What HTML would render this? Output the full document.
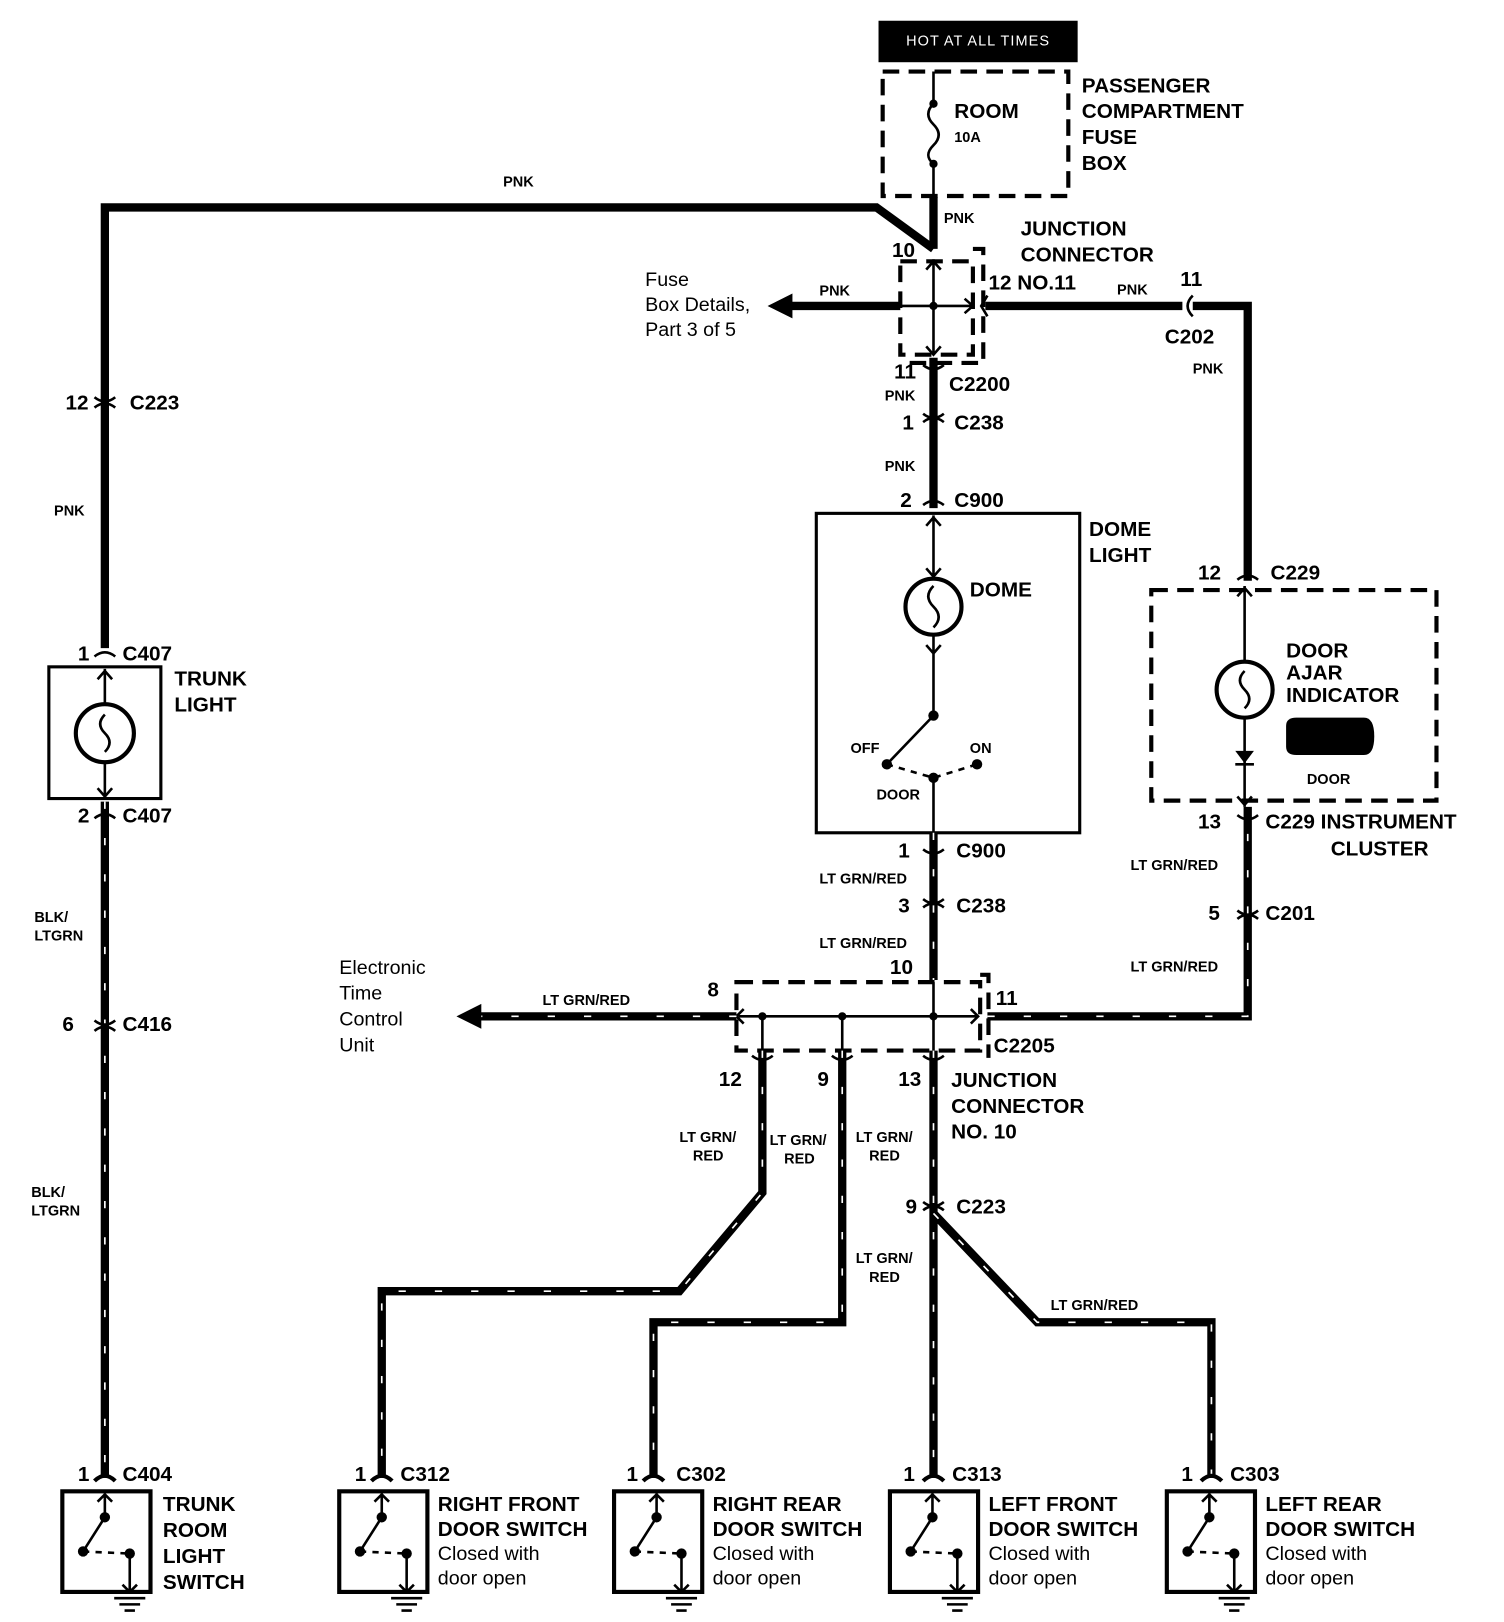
<!DOCTYPE html>
<html><head><meta charset="utf-8"><style>
html,body{margin:0;padding:0;background:#fff}
svg{display:block}
text{font-family:"Liberation Sans",Arial,sans-serif;fill:#000}
.b{font-weight:bold;font-size:20px}
.s{font-weight:bold;font-size:14px}
.n{font-size:19px}
.w{fill:none;stroke:#000;stroke-width:8;stroke-linejoin:miter}
.p{fill:none;stroke:#fff;stroke-width:1.6;stroke-dasharray:7 28}
.t{fill:none;stroke:#000;stroke-width:2.5}
.d{fill:none;stroke:#000;stroke-width:4;stroke-dasharray:16 9}
</style></head><body>
<svg width="1504" height="1622" viewBox="0 0 1450 1564" xmlns="http://www.w3.org/2000/svg">
<rect x="847" y="20" width="192" height="40" fill="#000"/>
<text x="943" y="44" text-anchor="middle" style="fill:#fff;font-size:14px;letter-spacing:1px">HOT AT ALL TIMES</text>
<rect x="851" y="69" width="179" height="120" class="d"/>
<path d="M900 69V100 M900 158V190" class="t"/>
<path d="M900 100 q-10 10 0 20 q10 10 0 20 q-10 10 0 18" class="t"/>
<circle cx="900" cy="100" r="4"/><circle cx="900" cy="158" r="4"/>
<text x="920" y="114" class="b">ROOM</text><text x="920" y="137" class="s">10A</text>
<text x="1043" y="89" class="b">PASSENGER</text><text x="1043" y="114" class="b">COMPARTMENT</text>
<text x="1043" y="139" class="b">FUSE</text><text x="1043" y="164" class="b">BOX</text>
<path d="M900 190V240 M900 240L845 200H101V625" class="w"/>
<text x="910" y="215" class="s">PNK</text><text x="485" y="180" class="s">PNK</text>
<rect x="868" y="252" width="70" height="90" class="d"/>
<path d="M938 240h10v110h-75" class="d" stroke-width="3"/>
<path d="M900 250V342 M868 295H938 M893 260l7-8 7 8 M893 334l7 8 7-8 M930 288l8 7-8 7" class="t"/>
<circle cx="900" cy="295" r="4"/>
<text x="860" y="248" class="b">10</text><text x="953" y="279" class="b">12 NO.11</text>
<text x="984" y="227" class="b">JUNCTION</text><text x="984" y="252" class="b">CONNECTOR</text>
<path d="M868 295H760" class="w"/><path d="M740 295l24-12v24z"/>
<text x="790" y="285" class="s">PNK</text>
<text x="622" y="276" class="n">Fuse</text><text x="622" y="300" class="n">Box Details,</text><text x="622" y="324" class="n">Part 3 of 5</text>
<path d="M950 295H1140 M1150 295H1203V560" class="w"/>
<path d="M952 285l-6 10 6 10 M1150 285q-10 10 0 20" class="t" stroke-width="4"/>
<text x="1138" y="276" class="b">11</text><text x="1077" y="284" class="s">PNK</text>
<text x="1123" y="331" class="b">C202</text><text x="1150" y="360" class="s">PNK</text>
<path d="M900 345V490" class="w"/>
<text x="862" y="365" class="b">11</text><text x="915" y="377" class="b">C2200</text><text x="853" y="386" class="s">PNK</text>
<text x="870" y="414" class="b">1</text><text x="920" y="414" class="b">C238</text>
<text x="853" y="454" class="s">PNK</text>
<text x="868" y="489" class="b">2</text><text x="920" y="489" class="b">C900</text>
<rect x="787" y="495" width="254" height="308" fill="none" stroke="#000" stroke-width="3"/>
<path d="M900 497V557 M900 613V690 L855 737 M900 750V803 M893 507l7-8 7 8 M893 548l7 8 7-8 M893 622l7 8 7-8" class="t"/>
<circle cx="900" cy="585" r="27" fill="none" stroke="#000" stroke-width="4"/>
<path d="M900 565q-10 10 0 20q10 10 0 20" class="t"/>
<circle cx="900" cy="690" r="5"/><circle cx="855" cy="737" r="5"/><circle cx="900" cy="750" r="5"/><circle cx="942" cy="737" r="5"/>
<path d="M855 737L900 750L942 737" class="t" stroke-dasharray="6 6"/>
<text x="935" y="575" class="b">DOME</text>
<text x="820" y="726" class="s">OFF</text><text x="935" y="726" class="s">ON</text><text x="845" y="771" class="s">DOOR</text>
<text x="1050" y="517" class="b">DOME</text><text x="1050" y="542" class="b">LIGHT</text>
<path d="M900 803V945" class="w"/><path d="M900 803V945" class="p"/>
<text x="866" y="827" class="b">1</text><text x="922" y="827" class="b">C900</text>
<text x="790" y="852" class="s">LT GRN/RED</text>
<text x="866" y="880" class="b">3</text><text x="922" y="880" class="b">C238</text>
<text x="790" y="914" class="s">LT GRN/RED</text>
<text x="858" y="939" class="b">10</text>
<rect x="710" y="947" width="235" height="66" class="d"/>
<path d="M945 940h8v80" class="d" stroke-width="3"/>
<path d="M712 980H943 M735 980V1013 M812 980V1013 M900 947V1013 M936 973l7 7-7 7 M717 973l-7 7 7 7" class="t"/>
<circle cx="735" cy="980" r="4"/><circle cx="812" cy="980" r="4"/><circle cx="900" cy="980" r="4"/>
<text x="682" y="961" class="b">8</text><text x="960" y="969" class="b">11</text><text x="958" y="1015" class="b">C2205</text>
<text x="693" y="1047" class="b">12</text><text x="788" y="1047" class="b">9</text><text x="866" y="1047" class="b">13</text>
<text x="917" y="1048" class="b">JUNCTION</text><text x="917" y="1073" class="b">CONNECTOR</text><text x="917" y="1098" class="b">NO. 10</text>
<path d="M710 980H460" class="w"/><path d="M710 980H460" class="p"/><path d="M440 980l24-12v24z"/>
<text x="523" y="969" class="s">LT GRN/RED</text>
<text x="327" y="939" class="n">Electronic</text><text x="327" y="964" class="n">Time</text><text x="327" y="989" class="n">Control</text><text x="327" y="1014" class="n">Unit</text>
<path d="M952 980H1203V778" class="w"/><path d="M952 980H1203V778" class="p"/>
<rect x="1110" y="569" width="275" height="203" class="d"/>
<path d="M1200 565V637 M1200 693V778 M1193 575l7-8 7 8 M1193 768l7 8 7-8" class="t"/>
<circle cx="1200" cy="665" r="27" fill="none" stroke="#000" stroke-width="4"/>
<path d="M1200 647q-9 9 0 18q9 9 0 18" class="t"/>
<path d="M1191 724h18l-9 12z"/><path d="M1191 737h18" class="t"/>
<path d="M1240 700q0-8 10-8h65q10 0 10 18q0 18-10 18h-65q-10 0-10-8z"/>
<text x="1240" y="634" class="b">DOOR</text><text x="1240" y="655" class="b">AJAR</text><text x="1240" y="677" class="b">INDICATOR</text>
<text x="1260" y="756" class="s">DOOR</text>
<text x="1155" y="559" class="b">12</text><text x="1225" y="559" class="b">C229</text>
<text x="1155" y="799" class="b">13</text><text x="1220" y="799" class="b">C229 INSTRUMENT</text><text x="1283" y="825" class="b">CLUSTER</text>
<text x="1090" y="839" class="s">LT GRN/RED</text>
<text x="1165" y="887" class="b">5</text><text x="1220" y="887" class="b">C201</text>
<text x="1090" y="937" class="s">LT GRN/RED</text>
<g>
<path d="M735 1013V1150L655 1245H368V1425 M812 1013V1275H630V1425 M900 1013V1425 M900 1170L1000 1275H1168V1425" class="w"/>
<path d="M735 1013V1150L655 1245H368V1425 M812 1013V1275H630V1425 M900 1013V1425 M900 1170L1000 1275H1168V1425" class="p"/>
</g>
<text x="873" y="1170" class="b">9</text><text x="922" y="1170" class="b">C223</text>
<text x="655" y="1101" class="s">LT GRN/</text><text x="668" y="1119" class="s">RED</text>
<text x="742" y="1104" class="s">LT GRN/</text><text x="756" y="1122" class="s">RED</text>
<text x="825" y="1101" class="s">LT GRN/</text><text x="838" y="1119" class="s">RED</text>
<text x="825" y="1218" class="s">LT GRN/</text><text x="838" y="1236" class="s">RED</text>
<text x="1013" y="1263" class="s">LT GRN/RED</text>
<text x="63" y="395" class="b">12</text><text x="125" y="395" class="b">C223</text>
<text x="52" y="497" class="s">PNK</text>
<text x="75" y="637" class="b">1</text><text x="118" y="637" class="b">C407</text>
<rect x="47" y="643" width="108" height="127" fill="none" stroke="#000" stroke-width="3"/>
<path d="M101 645V679 M101 735V770 M94 655l7-8 7 8 M94 760l7 8 7-8" class="t"/>
<circle cx="101" cy="707" r="28" fill="none" stroke="#000" stroke-width="4"/>
<path d="M101 689q-9 9 0 18q9 9 0 18" class="t"/>
<text x="168" y="661" class="b">TRUNK</text><text x="168" y="686" class="b">LIGHT</text>
<path d="M101 773V1425" class="w"/><path d="M101 773V1425" class="p"/>
<text x="75" y="793" class="b">2</text><text x="118" y="793" class="b">C407</text>
<text x="33" y="889" class="s">BLK/</text><text x="33" y="907" class="s">LTGRN</text>
<text x="60" y="994" class="b">6</text><text x="118" y="994" class="b">C416</text>
<text x="30" y="1154" class="s">BLK/</text><text x="30" y="1172" class="s">LTGRN</text>
<g class="t" stroke-width="4" fill="none">
<path d="M91 393q10-8 20 0 M91 383q10 8 20 0"/>
<path d="M91 633q10-8 20 0 M91 789q10-8 20 0 M91 994q10-8 20 0 M91 984q10 8 20 0"/>
<path d="M890 407q10-8 20 0 M890 399q10 8 20 0 M890 487q10-8 20 0 M890 819q10 8 20 0 M890 875q10-8 20 0 M890 867q10 8 20 0 M890 1167q10-8 20 0 M890 1159q10 8 20 0"/>
<path d="M1193 559q10-8 20 0 M1193 786q10 8 20 0 M1193 886q10-8 20 0 M1193 878q10 8 20 0"/>
<path d="M725 1018q10 8 20 0 M802 1018q10 8 20 0 M890 1018q10 8 20 0 M890 352q10 8 20 0"/>
</g>
<text x="75" y="1428" class="b">1</text><text x="118" y="1428" class="b">C404</text>
<text x="342" y="1428" class="b">1</text><text x="386" y="1428" class="b">C312</text>
<text x="604" y="1428" class="b">1</text><text x="652" y="1428" class="b">C302</text>
<text x="871" y="1428" class="b">1</text><text x="918" y="1428" class="b">C313</text>
<text x="1139" y="1428" class="b">1</text><text x="1186" y="1428" class="b">C303</text>
<g fill="none" stroke="#000">
<path d="M91 1428q10-10 20 0 M358 1428q10-10 20 0 M620 1428q10-10 20 0 M890 1428q10-10 20 0 M1158 1428q10-10 20 0" stroke-width="4"/>
</g>
<defs>
<g id="s">
<rect x="0" y="0" width="85" height="97" fill="none" stroke="#000" stroke-width="4"/>
<path d="M41 2V25 L20 58 M34 10l7-7 7 7 M65 60V97 M58 90l7 7 7-7 M50 103h30 M55 109h20 M60 115h10" fill="none" stroke="#000" stroke-width="2.5"/>
<path d="M20 58L65 60" fill="none" stroke="#000" stroke-width="2.5" stroke-dasharray="6 6"/>
<circle cx="41" cy="25" r="5"/><circle cx="20" cy="58" r="5"/><circle cx="65" cy="60" r="5"/>
</g>
</defs>
<use href="#s" x="60" y="1438"/><use href="#s" x="327" y="1438"/><use href="#s" x="592" y="1438"/><use href="#s" x="858" y="1438"/><use href="#s" x="1125" y="1438"/>
<text x="157" y="1457" class="b">TRUNK</text><text x="157" y="1482" class="b">ROOM</text><text x="157" y="1507" class="b">LIGHT</text><text x="157" y="1532" class="b">SWITCH</text>
<text x="422" y="1457" class="b">RIGHT FRONT</text><text x="422" y="1481" class="b">DOOR SWITCH</text><text x="422" y="1504" class="n">Closed with</text><text x="422" y="1528" class="n">door open</text>
<text x="687" y="1457" class="b">RIGHT REAR</text><text x="687" y="1481" class="b">DOOR SWITCH</text><text x="687" y="1504" class="n">Closed with</text><text x="687" y="1528" class="n">door open</text>
<text x="953" y="1457" class="b">LEFT FRONT</text><text x="953" y="1481" class="b">DOOR SWITCH</text><text x="953" y="1504" class="n">Closed with</text><text x="953" y="1528" class="n">door open</text>
<text x="1220" y="1457" class="b">LEFT REAR</text><text x="1220" y="1481" class="b">DOOR SWITCH</text><text x="1220" y="1504" class="n">Closed with</text><text x="1220" y="1528" class="n">door open</text>
</svg>
</body></html>
